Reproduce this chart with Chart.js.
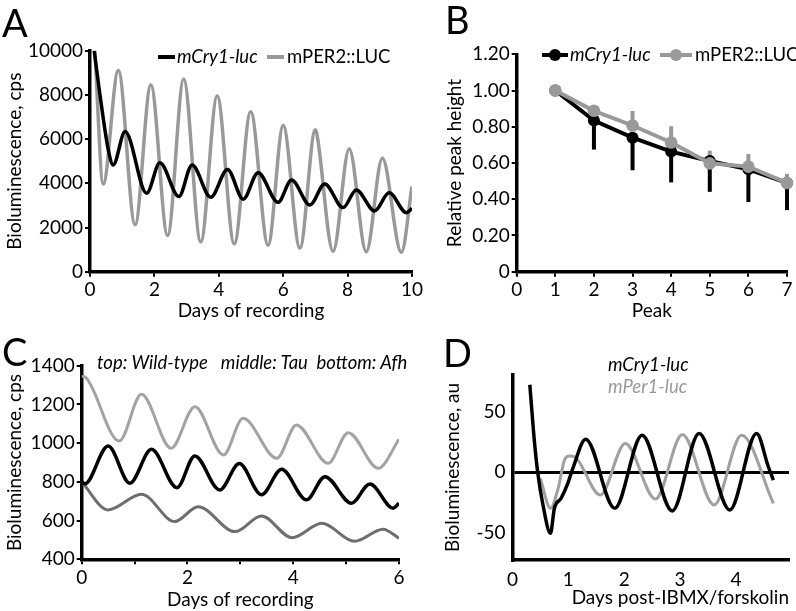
<!DOCTYPE html>
<html>
<head>
<meta charset="utf-8">
<script src="https://cdn.jsdelivr.net/npm/chart.js@4.4.1/dist/chart.umd.min.js"></script>
<style>
  body { margin: 0; background: #fff; width: 796px; height: 611px; position: relative; overflow: hidden; font-family: Lato, sans-serif; }
  canvas { position: absolute; }
  .txt { position: absolute; line-height: 1; white-space: nowrap; color: #000; }
  .letter { font-size: 38px; }
  .leg { font-size: 18.5px; }
  .it { font-style: italic; }
  .gray { color: #999; }
  .swatch { position: absolute; height: 4px; }
  .dot { position: absolute; width: 12px; height: 12px; border-radius: 50%; }
</style>
</head>
<body>
<canvas id="chartA" width="425" height="295" style="left:0;top:30px"></canvas>
<canvas id="chartB" width="366" height="295" style="left:430px;top:30px"></canvas>
<canvas id="chartC" width="425" height="271" style="left:0;top:340px"></canvas>
<canvas id="chartD" width="366" height="271" style="left:430px;top:340px"></canvas>

<div class="txt letter" style="left:2px;top:3px">A</div>
<div class="txt letter" style="left:445px;top:0px">B</div>
<div class="txt letter" style="left:2px;top:332px">C</div>
<div class="txt letter" style="left:443px;top:333px">D</div>

<!-- legend A -->
<div class="swatch" style="left:158px;top:55px;width:17px;background:#000"></div>
<div class="txt leg it" style="left:177px;top:47px">mCry1-luc</div>
<div class="swatch" style="left:267px;top:55px;width:17px;background:#999"></div>
<div class="txt leg" style="left:287px;top:47px">mPER2::LUC</div>

<!-- legend B -->
<div class="swatch" style="left:542px;top:53px;width:26px;background:#000"></div>
<div class="dot" style="left:549px;top:49px;background:#000"></div>
<div class="txt leg it" style="left:570px;top:45px">mCry1-luc</div>
<div class="swatch" style="left:660px;top:53px;width:32px;background:#999"></div>
<div class="dot" style="left:670px;top:49px;background:#999"></div>
<div class="txt leg" style="left:695px;top:45px">mPER2::LUC</div>

<!-- annotation C -->
<div class="txt leg it" style="left:97px;top:353px">top: Wild-type&nbsp;&nbsp; middle: Tau&nbsp; bottom: Afh</div>

<!-- legend D -->
<div class="txt leg it" style="left:608px;top:355px">mCry1-luc</div>
<div class="txt leg it gray" style="left:608px;top:377px">mPer1-luc</div>

<script>
// ---- Panel A: raw traces (days, counts per second)
const aCryDays = [0.13, 0.36, 0.57, 0.72, 1.09, 1.76, 2.17, 2.76, 3.17, 3.75, 4.27, 4.76, 5.22, 5.84, 6.26, 6.83, 7.29, 7.86, 8.27, 8.84, 9.29, 9.83, 10.0];
const aCryCps = [10000, 7470, 5500, 4830, 6340, 3550, 4930, 3400, 4830, 3370, 4630, 3280, 4480, 3140, 4150, 3020, 3970, 2900, 3700, 2750, 3570, 2670, 2870];
const aPerDays = [0.15, 0.41, 0.88, 1.40, 1.89, 2.41, 2.91, 3.44, 3.95, 4.48, 4.99, 5.53, 6.00, 6.52, 7.00, 7.05, 7.55, 8.05, 8.58, 9.08, 9.67, 10.0];
const aPerCps = [10000, 3970, 9100, 2130, 8450, 1640, 8710, 1350, 7950, 1260, 7240, 1200, 6610, 1070, 6420, 6200, 920, 5550, 900, 5130, 880, 3850];

// ---- Panel B: relative peak heights with one-sided error bars
const bPeaks = [1, 2, 3, 4, 5, 6, 7];
const bCry = [1.00, 0.834, 0.740, 0.663, 0.611, 0.565, 0.490];
const bCryErr = [0, 0.16, 0.18, 0.17, 0.17, 0.18, 0.15];
const bPer = [1.00, 0.888, 0.807, 0.713, 0.598, 0.580, 0.490];
const bPerErr = [0, 0.01, 0.08, 0.09, 0.07, 0.07, 0.05];

// ---- Panel C: Wild-type (top), Tau (middle), Afh (bottom)
const cWtDays = [0, 0.08, 0.71, 1.13, 1.69, 2.14, 2.68, 3.05, 3.69, 4.06, 4.66, 5.04, 5.61, 6.0];
const cWt = [1345, 1338, 1011, 1252, 974, 1188, 939, 1128, 922, 1094, 896, 1054, 870, 1020];
const cTauDays = [0, 0.06, 0.50, 0.91, 1.32, 1.80, 2.14, 2.61, 2.98, 3.40, 3.78, 4.25, 4.60, 5.10, 5.45, 5.89, 6.0];
const cTau = [800, 790, 985, 793, 968, 770, 934, 758, 895, 733, 865, 707, 827, 690, 789, 664, 690];
const cAfhDays = [0, 0.50, 1.13, 1.76, 2.20, 2.90, 3.40, 3.98, 4.54, 5.16, 5.70, 6.0];
const cAfh = [800, 655, 736, 595, 672, 543, 624, 511, 586, 493, 555, 509];

// ---- Panel D: detrended traces after IBMX/forskolin
const dCryDays = [0.31, 0.39, 0.45, 0.54, 0.68, 0.75, 0.87, 0.99, 1.08, 1.31, 1.83, 2.32, 2.86, 3.34, 3.89, 4.37, 4.58, 4.67];
const dCry = [72, 26.5, 0.5, -25.4, -50, -29.5, -21.3, -9, 3.3, 27.3, -29.5, 30.6, -31.7, 32, -30.9, 32, 4.6, -6.3];
const dPerDays = [0.50, 0.68, 0.81, 0.93, 1.02, 1.11, 1.57, 2.02, 2.56, 3.04, 3.61, 4.10, 4.67];
const dPer = [-5, -29.5, -14.5, 10, 13.4, 12.8, -18.6, 23.8, -21.9, 31.1, -26.8, 30.6, -25.4];
const dDayTicks = [0, 1, 2, 3, 4];
const dAuTicks = [-50, 0, 50];

Chart.defaults.font.family = 'Lato, sans-serif';
Chart.defaults.font.size = 19;
Chart.defaults.color = '#000';

const toXY = (xs, ys) => xs.map((x, i) => ({ x: x, y: ys[i] }));

function lineSet(xs, ys, color, width) {
  return {
    data: toXY(xs, ys),
    borderColor: color,
    borderWidth: width,
    pointRadius: 0,
    cubicInterpolationMode: 'monotone',
    fill: false,
  };
}

function axis(opts) {
  const a = {
    type: 'linear',
    min: opts.min,
    max: opts.max,
    ticks: { stepSize: opts.step, padding: opts.pad, maxRotation: 0, autoSkip: false, callback: opts.cb || (v => String(v)) },
    grid: { drawOnChartArea: false, drawTicks: opts.tick !== false, tickLength: 5, color: '#000', lineWidth: 2 },
    border: { color: '#000', width: 3.5 },
    title: { display: true, text: opts.title, padding: opts.titlePad, align: opts.align || 'center' },
  };
  if (opts.ticks) a.afterBuildTicks = s => { s.ticks = opts.ticks.map(v => ({ value: v })); };
  if (opts.h) a.afterFit = s => { s.height = opts.h; };
  if (opts.w) a.afterFit = s => { s.width = opts.w; };
  return a;
}

const baseOpts = (pad) => ({
  responsive: false,
  animation: false,
  layout: { padding: pad },
  plugins: { legend: { display: false }, tooltip: { enabled: false } },
});

// A
new Chart(document.getElementById('chartA'), {
  type: 'line',
  data: { datasets: [lineSet(aCryDays, aCryCps, '#000', 3.5), lineSet(aPerDays, aPerCps, '#999', 3.5)] },
  options: {
    ...baseOpts({ left: 0, top: 20.7, right: 12.7, bottom: 0 }),
    scales: {
      x: axis({ min: 0, max: 10, step: 2, pad: 2, title: 'Days of recording', titlePad: { top: 0, bottom: 2.6 }, h: 53.3 }),
      y: axis({ min: 0, max: 10000, step: 2000, pad: 2, title: 'Bioluminescence, cps', titlePad: { top: 3.6, bottom: 0 }, w: 90 }),
    },
  },
});

// B error bars drawn through the chart scales
const errorBars = {
  id: 'errorBars',
  beforeDatasetsDraw(chart) {
    const { ctx, scales: { x, y } } = chart;
    ctx.save();
    ctx.lineWidth = 4;
    ctx.strokeStyle = '#000';
    bPeaks.forEach((p, i) => {
      if (!bCryErr[i]) return;
      ctx.beginPath();
      ctx.moveTo(x.getPixelForValue(p), y.getPixelForValue(bCry[i]));
      ctx.lineTo(x.getPixelForValue(p), y.getPixelForValue(bCry[i] - bCryErr[i]));
      ctx.stroke();
    });
    ctx.strokeStyle = '#999';
    bPeaks.forEach((p, i) => {
      if (!bPerErr[i]) return;
      ctx.beginPath();
      ctx.moveTo(x.getPixelForValue(p), y.getPixelForValue(bPer[i]));
      ctx.lineTo(x.getPixelForValue(p), y.getPixelForValue(bPer[i] + bPerErr[i]));
      ctx.stroke();
    });
    ctx.restore();
  },
};

new Chart(document.getElementById('chartB'), {
  type: 'line',
  data: {
    datasets: [
      { data: toXY(bPeaks, bPer), borderColor: '#999', backgroundColor: '#999', borderWidth: 4, pointRadius: 6.3, pointBorderWidth: 0, clip: false },
      { data: toXY(bPeaks, bCry), borderColor: '#000', backgroundColor: '#000', borderWidth: 4, pointRadius: 6, pointBorderWidth: 0, clip: false },
    ],
  },
  options: {
    ...baseOpts({ left: 0, top: 24.3, right: 9, bottom: 0 }),
    scales: {
      x: axis({ min: 0, max: 7, step: 1, pad: 2, title: 'Peak', titlePad: { top: 0, bottom: 2.6 }, h: 53.3 }),
      y: axis({ min: 0, max: 1.2, step: 0.2, pad: 2, title: 'Relative peak height', titlePad: { top: 13.6, bottom: 0 }, w: 86.7,
        cb: v => (v === 0 ? '0' : v.toFixed(2)) }),
    },
  },
  plugins: [errorBars],
});

// C
new Chart(document.getElementById('chartC'), {
  type: 'line',
  data: {
    datasets: [
      lineSet(cWtDays, cWt, '#a3a3a3', 3),
      lineSet(cTauDays, cTau, '#000', 3.5),
      lineSet(cAfhDays, cAfh, '#6e6e6e', 3),
    ],
  },
  options: {
    ...baseOpts({ left: 0, top: 25.7, right: 26, bottom: 0 }),
    scales: {
      x: axis({ min: 0, max: 6, step: 1, pad: 2, title: 'Days of recording', titlePad: { top: 0, bottom: 0 }, h: 51.7,
        cb: v => (v % 2 === 0 ? String(v) : '') }),
      y: axis({ min: 400, max: 1400, step: 200, pad: 2, title: 'Bioluminescence, cps', titlePad: { top: 3.6, bottom: 0 }, w: 81.7 }),
    },
  },
});

// D
const dY = axis({ min: -72, max: 80, pad: 7, tick: false, ticks: dAuTicks, title: 'Bioluminescence, au', titlePad: { top: 11.6, bottom: 0 }, w: 82.5 });
dY.grid = { drawOnChartArea: true, drawTicks: false, color: c => (c.tick && c.tick.value === 0 ? '#000' : 'rgba(0,0,0,0)'), lineWidth: 3 };

new Chart(document.getElementById('chartD'), {
  type: 'line',
  data: {
    datasets: [lineSet(dCryDays, dCry, '#000', 3.5), lineSet(dPerDays, dPer, '#a0a0a0', 3)],
  },
  options: {
    ...baseOpts({ left: 0, top: 35, right: 7, bottom: 0 }),
    scales: {
      x: axis({ min: 0, max: 4.95, pad: 8, tick: false, ticks: dDayTicks, title: 'Days post-IBMX/forskolin', titlePad: { top: 0, bottom: 1.6 }, h: 51, align: 'end' }),
      y: dY,
    },
  },
});
</script>
</body>
</html>
